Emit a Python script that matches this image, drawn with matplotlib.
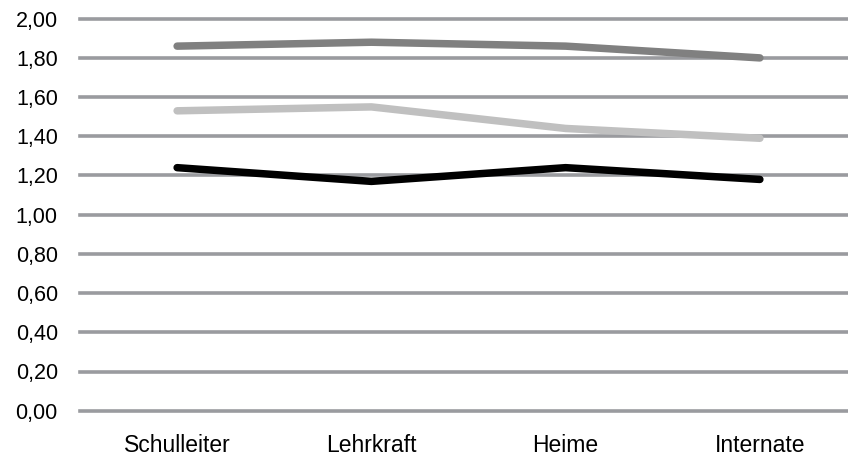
import matplotlib
matplotlib.use("Agg")
from matplotlib import pyplot as plt

# -------------------- Data --------------------
categories = ["Schulleiter", "Lehrkraft", "Heime", "Internate"]
series_dark = [1.86, 1.88, 1.86, 1.80]
series_light = [1.53, 1.55, 1.44, 1.39]
series_black = [1.24, 1.17, 1.24, 1.18]
y_ticks = [0.0, 0.2, 0.4, 0.6, 0.8, 1.0, 1.2, 1.4, 1.6, 1.8, 2.0]


def fmt_de(v):
    return f"{v:.2f}".replace(".", ",")


# -------------------- Plot --------------------
plt.rcParams["font.family"] = ["Liberation Sans", "DejaVu Sans"]

W, H, DPI = 848, 459, 100
fig = plt.figure(figsize=(W / DPI, H / DPI), dpi=DPI)
left, right = 80, 857
bottom, top = H - 410.7, H - 18.7
ax = fig.add_axes([left / W, bottom / H, (right - left) / W, (top - bottom) / H])

x = list(range(len(categories)))
line_kw = dict(linewidth=5.4, solid_capstyle="round", solid_joinstyle="round", zorder=3)
ax.plot(x, series_dark, color="#808080", **line_kw)
ax.plot(x, series_light, color="#c0c0c0", **line_kw)
ax.plot(x, series_black, color="#000000", **line_kw)

ax.set_xlim(-0.5, len(categories) - 0.5)
ax.set_ylim(0, 2)
ax.set_yticks(y_ticks)
ax.set_yticklabels([fmt_de(v) for v in y_ticks])
ax.set_xticks(x)
ax.set_xticklabels(categories)

ax.grid(axis="y", color="#9a9b9f", linewidth=2.6, zorder=1)
for gl in ax.get_ygridlines():
    gl.set_clip_on(False)
ax.set_axisbelow(True)

for s in ax.spines.values():
    s.set_visible(False)
ax.tick_params(axis="both", length=0, colors="#000000")
ax.tick_params(axis="y", pad=16, labelsize=15.5)
ax.tick_params(axis="x", pad=17, labelsize=16.5)

fig.savefig("out.png", dpi=DPI)
